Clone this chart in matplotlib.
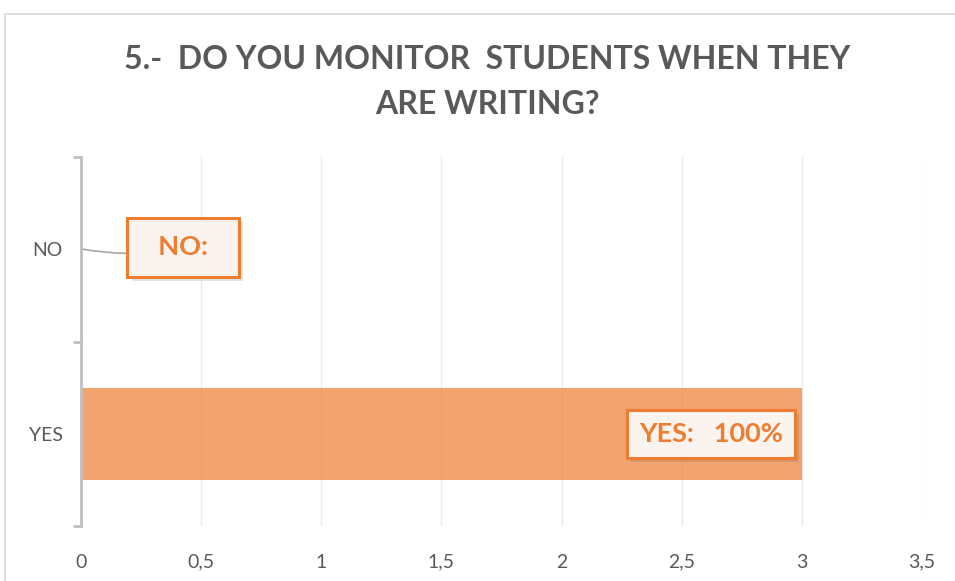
import matplotlib.pyplot as plt
from matplotlib.patches import Rectangle
import matplotlib.patheffects as pe

categories = ["YES", "NO"]
values = [3, 0]
labels = ["YES:   100%", "NO:"]
xticks = [0, 0.5, 1, 1.5, 2, 2.5, 3, 3.5]
xtick_labels = ["0", "0,5", "1", "1,5", "2", "2,5", "3", "3,5"]
title = "5.-  DO YOU MONITOR  STUDENTS WHEN THEY\nARE WRITING?"

orange = "#ED7D31"
grey_text = "#595959"

plt.rcParams["font.family"] = ["Lato", "DejaVu Sans"]

W, H = 955, 581
fig = plt.figure(figsize=(W / 100, H / 100), dpi=100)

# outer chart border
fig.patches.append(Rectangle((5 / W, -0.1), 1.2, (H - 14) / H + 0.1,
                             transform=fig.transFigure, fill=False,
                             edgecolor="#D9D9D9", linewidth=1.2))

ax = fig.add_axes([81 / W, (H - 526) / H, (922 - 81) / W, (526 - 157) / H])
ax.barh(range(len(categories)), values, height=0.5, color=orange, alpha=0.7)

ax.set_xlim(0, 3.5)
ax.set_ylim(-0.5, 1.5)
ax.set_xticks(xticks)
ax.set_xticklabels(xtick_labels)
ax.set_yticks(range(len(categories)))
ax.set_yticklabels(categories)
ax.set_yticks([-0.5, 0.5, 1.5], minor=True)

ax.grid(True, axis="x", color="#EBEBEB", linewidth=1)
ax.set_axisbelow(True)
for s in ["top", "right", "bottom"]:
    ax.spines[s].set_visible(False)
ax.spines["left"].set_color("#BFBFBF")
ax.spines["left"].set_linewidth(2)

ax.tick_params(axis="x", length=0, pad=20, labelsize=14, labelcolor=grey_text)
ax.tick_params(axis="y", which="major", length=0, pad=13, labelsize=14, labelcolor=grey_text)
ax.tick_params(axis="y", which="minor", length=6, width=2, color="#BFBFBF")

box = dict(boxstyle="square,pad=0.45", facecolor="#FBF3EE", edgecolor=orange,
           linewidth=2.2,
           path_effects=[pe.SimplePatchShadow(offset=(3, -3), alpha=0.15), pe.Normal()])

# YES label inside bar end
ax.text(values[0] - 0.08, 0, labels[0], ha="right", va="center",
        fontsize=19.5, fontweight="bold", color=orange, bbox=box)

# NO label with leader line
ax.annotate("  " + labels[1] + "  ", xy=(values[1] + 0.01, 1), xytext=(0.425, 1.01),
            ha="center", va="center", fontsize=19.5, fontweight="bold", color=orange,
            bbox=dict(box, boxstyle="square,pad=0.65"),
            arrowprops=dict(arrowstyle="-", color="#A6A6A6", linewidth=1.2,
                            shrinkA=0, shrinkB=0,
                            connectionstyle="arc3,rad=-0.1"))

fig.text(0.51, (H - 82) / H, title, ha="center", va="center", fontsize=23,
         fontweight="bold", color=grey_text, linespacing=1.7)

fig.savefig("out.png", dpi=100)
